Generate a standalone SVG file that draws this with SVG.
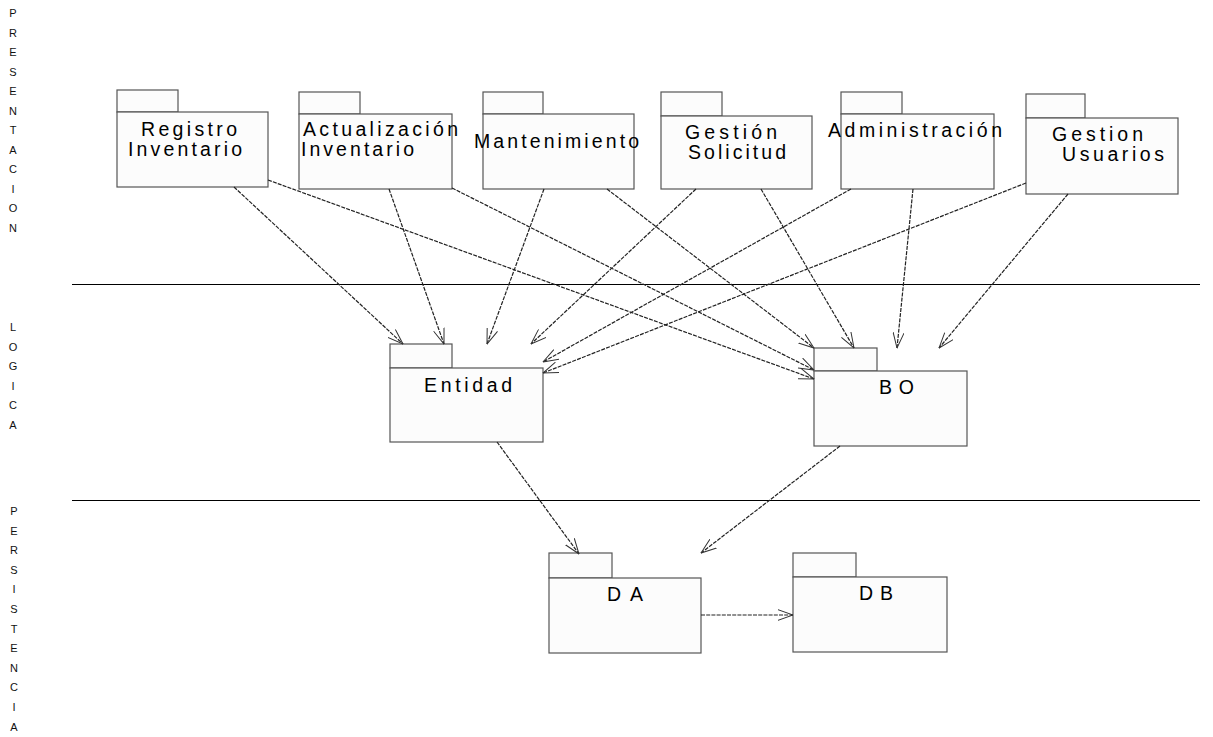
<svg xmlns="http://www.w3.org/2000/svg" width="1213" height="737" viewBox="0 0 1213 737">
<style>
.pk rect{fill:#fcfcfc;stroke:#555;stroke-width:1.2}
.lbl{font-family:"Liberation Sans",Arial,sans-serif;font-size:19.5px;fill:#000}
.side{font-family:"Liberation Sans",Arial,sans-serif;font-size:11px;fill:#111;text-anchor:middle}
.sep{stroke:#000;stroke-width:1}
.dep{fill:none;stroke:#222;stroke-width:1.2;stroke-dasharray:4 1.2;marker-end:url(#ah)}
</style>
<defs>
<marker id="ah" viewBox="0 0 16 12" refX="15.5" refY="6" markerWidth="16" markerHeight="12" markerUnits="userSpaceOnUse" orient="auto">
<path d="M0,0.5 L15.5,6 L0,11.5" fill="none" stroke="#333" stroke-width="1"/>
</marker>
</defs>
<rect width="1213" height="737" fill="#fff"/>
<g id="side-labels">
<text class="side" x="13" y="17">P</text><text class="side" x="13" y="36.5">R</text><text class="side" x="13" y="56">E</text><text class="side" x="13" y="75.5">S</text><text class="side" x="13" y="95">E</text><text class="side" x="13" y="114.5">N</text><text class="side" x="13" y="134">T</text><text class="side" x="13" y="153.5">A</text><text class="side" x="13" y="173">C</text><text class="side" x="13" y="192.5">I</text><text class="side" x="13" y="212">O</text><text class="side" x="13" y="231.5">N</text>
<text class="side" x="13" y="331">L</text><text class="side" x="13" y="350.5">O</text><text class="side" x="13" y="370">G</text><text class="side" x="13" y="389.5">I</text><text class="side" x="13" y="409">C</text><text class="side" x="13" y="428.5">A</text>
<text class="side" x="14" y="515">P</text><text class="side" x="14" y="534.6">E</text><text class="side" x="14" y="554.2">R</text><text class="side" x="14" y="573.8">S</text><text class="side" x="14" y="593.4">I</text><text class="side" x="14" y="613">S</text><text class="side" x="14" y="632.6">T</text><text class="side" x="14" y="652.2">E</text><text class="side" x="14" y="671.8">N</text><text class="side" x="14" y="691.4">C</text><text class="side" x="14" y="711">I</text><text class="side" x="14" y="730.6">A</text>
</g>
<g id="separators">
<line class="sep" x1="72" y1="284.5" x2="1200" y2="284.5"/>
<line class="sep" x1="72" y1="500.5" x2="1200" y2="500.5"/>
</g>
<g id="registro" class="pk">
<rect x="117" y="90" width="61" height="22"/><rect x="117" y="112" width="151" height="75"/>
<text class="lbl"><tspan x="141" y="136" textLength="96" lengthAdjust="spacing">Registro</tspan><tspan x="128" y="156" textLength="114" lengthAdjust="spacing">Inventario</tspan></text>
</g>
<g id="actualizacion" class="pk">
<rect x="299" y="92" width="61" height="22"/><rect x="299" y="114" width="153" height="75"/>
<text class="lbl"><tspan x="303" y="136" textLength="155" lengthAdjust="spacing">Actualización</tspan><tspan x="301" y="156" textLength="113" lengthAdjust="spacing">Inventario</tspan></text>
</g>
<g id="mantenimiento" class="pk">
<rect x="483" y="92" width="60" height="22"/><rect x="483" y="114" width="151" height="75"/>
<text class="lbl" x="474" y="148" textLength="165" lengthAdjust="spacing">Mantenimiento</text>
</g>
<g id="gestion-solicitud" class="pk">
<rect x="661" y="92" width="61" height="24"/><rect x="661" y="116" width="151" height="73"/>
<text class="lbl"><tspan x="685" y="139" textLength="92" lengthAdjust="spacing">Gestión</tspan><tspan x="688" y="159" textLength="98" lengthAdjust="spacing">Solicitud</tspan></text>
</g>
<g id="administracion" class="pk">
<rect x="841" y="92" width="61" height="22"/><rect x="841" y="114" width="153" height="75"/>
<text class="lbl" x="828" y="137" textLength="174" lengthAdjust="spacing">Administración</text>
</g>
<g id="gestion-usuarios" class="pk">
<rect x="1026" y="94" width="59" height="24"/><rect x="1026" y="118" width="152" height="76"/>
<text class="lbl"><tspan x="1052" y="141" textLength="91" lengthAdjust="spacing">Gestion</tspan><tspan x="1062" y="161" textLength="102" lengthAdjust="spacing">Usuarios</tspan></text>
</g>
<g id="entidad" class="pk">
<rect x="390" y="344" width="62" height="24"/><rect x="390" y="368" width="153" height="74"/>
<text class="lbl" x="424" y="392" textLength="88" lengthAdjust="spacing">Entidad</text>
</g>
<g id="bo" class="pk">
<rect x="814" y="348" width="63" height="23"/><rect x="814" y="371" width="153" height="75"/>
<text class="lbl" x="879" y="394" textLength="35" lengthAdjust="spacing">BO</text>
</g>
<g id="da" class="pk">
<rect x="549" y="553" width="63" height="25"/><rect x="549" y="578" width="152" height="75"/>
<text class="lbl" x="607" y="601" textLength="36" lengthAdjust="spacing">DA</text>
</g>
<g id="db" class="pk">
<rect x="793" y="553" width="63" height="24"/><rect x="793" y="577" width="154" height="75"/>
<text class="lbl" x="859" y="600" textLength="34" lengthAdjust="spacing">DB</text>
</g>
<g id="connectors">
<line class="dep" x1="234" y1="187" x2="403" y2="344"/>
<line class="dep" x1="268" y1="180" x2="814" y2="379"/>
<line class="dep" x1="389" y1="189" x2="444" y2="344"/>
<line class="dep" x1="452" y1="188" x2="814" y2="370"/>
<line class="dep" x1="544" y1="189" x2="487" y2="344"/>
<line class="dep" x1="607" y1="189" x2="814" y2="348"/>
<line class="dep" x1="696" y1="189" x2="531" y2="344"/>
<line class="dep" x1="761" y1="189" x2="854" y2="348"/>
<line class="dep" x1="851" y1="189" x2="543" y2="362"/>
<line class="dep" x1="913" y1="189" x2="897" y2="348"/>
<line class="dep" x1="1026" y1="183" x2="543" y2="373"/>
<line class="dep" x1="1068" y1="194" x2="939" y2="348"/>
<line class="dep" x1="497" y1="442" x2="579" y2="554"/>
<line class="dep" x1="840" y1="446" x2="701" y2="553"/>
<line class="dep" x1="701" y1="615" x2="793" y2="615"/>
</g>
</svg>
